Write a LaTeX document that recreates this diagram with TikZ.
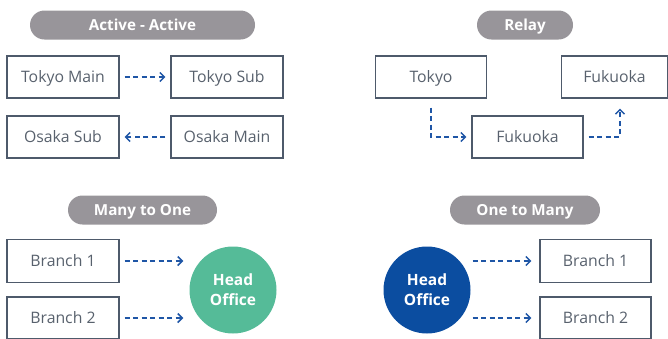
\documentclass[tikz,border=0pt]{standalone}
\usepackage{fontspec}
\setmainfont{Open Sans}
\usetikzlibrary{arrows.meta}
\definecolor{pillgray}{HTML}{98959A}
\definecolor{boxline}{HTML}{4E5A6B}
\definecolor{boxtext}{HTML}{58616D}
\definecolor{linkblue}{HTML}{1F56A6}
\definecolor{headgreen}{HTML}{55BB98}
\definecolor{headblue}{HTML}{0B4DA0}
\tikzset{
  pill/.style = {fill=pillgray, rounded corners=14.5pt, minimum height=29pt,
    text=white, font=\fontsize{15.2}{17}\selectfont\bfseries, inner sep=0pt,
    text height=10.9pt, text depth=0pt},
  site/.style = {draw=boxline, line width=1.2pt, minimum width=112pt,
    minimum height=42pt, text=boxtext, font=\fontsize{15.8}{18}\selectfont, inner sep=0pt,
    text height=11.3pt, text depth=0pt},
  hub/.style = {circle, minimum size=87pt, inner sep=0pt, text=white,
    font=\fontsize{15.5}{20}\selectfont\bfseries, align=center},
  link/.style = {draw=linkblue, line width=1.6pt, dash pattern=on 5pt off 3.5pt,
    -{Straight Barb[length=4.5pt,width=9pt,line width=1.5pt]},
    shorten <=5pt, shorten >=5pt}
}
\begin{document}
\begin{tikzpicture}[x=1pt, y=-1pt]
\useasboundingbox (0,0) rectangle (668,338);
% Active - Active
\node[pill, minimum width=225pt] (pillaa) at (142.5,25) {Active - Active};
\node[site] (tokyomain) at (63,77) {Tokyo Main};
\node[site] (tokyosub) at (227,77) {Tokyo Sub};
\node[site] (osakasub) at (63,137) {Osaka Sub};
\node[site] (osakamain) at (227,137) {Osaka Main};
\draw[link] (tokyomain) -- (tokyosub);
\draw[link] (osakamain) -- (osakasub);
% Relay
\node[pill, minimum width=96pt] (pillrelay) at (525,25) {Relay};
\node[site, minimum width=111pt] (tokyo) at (431,77) {Tokyo};
\node[site, minimum width=106pt] (fuktop) at (614.5,77) {Fukuoka};
\node[site, minimum width=111pt] (fukmid) at (527.5,137) {Fukuoka};
\draw[link, shorten <=9pt] (tokyo.south) |- (fukmid.west);
\draw[link, shorten >=10pt] (fukmid.east) -| ([xshift=5.5pt]fuktop.south);
% Many to One
\node[pill, minimum width=149pt] (pillmto) at (142.5,210) {Many to One};
\node[site, minimum height=43pt] (branchA) at (63,261) {Branch 1};
\node[site] (branchB) at (63,318) {Branch 2};
\node[hub, fill=headgreen] (headA) at (233,290) {Head\\Office};
\draw[link, shorten >=6pt] (branchA.east) -- (branchA.east -| headA.west);
\draw[link, shorten >=6pt] (branchB.east) -- (branchB.east -| headA.west);
% One to Many
\node[pill, minimum width=150pt] (pillotm) at (525,210) {One to Many};
\node[hub, fill=headblue] (headB) at (427,290) {Head\\Office};
\node[site, minimum width=111pt, minimum height=43pt] (branchC) at (595.5,261) {Branch 1};
\node[site, minimum width=111pt] (branchD) at (595.5,318) {Branch 2};
\draw[link, shorten <=2pt, shorten >=8pt] (branchC.west -| headB.east) -- (branchC.west);
\draw[link, shorten <=2pt, shorten >=8pt] (branchD.west -| headB.east) -- (branchD.west);
\end{tikzpicture}
\end{document}
